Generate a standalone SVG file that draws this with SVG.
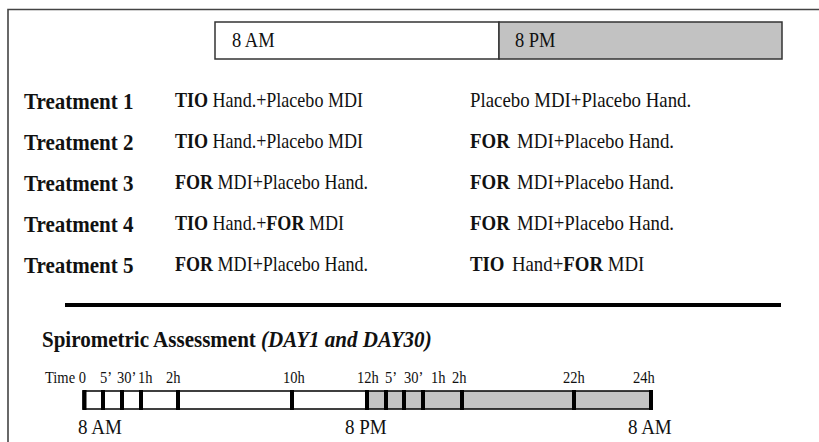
<svg xmlns="http://www.w3.org/2000/svg" width="819" height="442" viewBox="0 0 819 442">
<style>
text{font-family:"Liberation Serif","Times New Roman",serif;fill:#111}
.tl{font-size:23.9px;font-weight:bold}
.r2{font-size:20.5px}
.r3{font-size:21.4px}
.hd{font-size:21px}
.b{font-weight:bold}
.tm{font-size:16.5px}
.bt{font-size:21.6px}
.frame{stroke:#444;stroke-width:1.6;fill:none}
.box{stroke:#333;stroke-width:1.5}
.tick{stroke:#000;stroke-width:4}
</style>
<rect x="0" y="0" width="819" height="442" fill="#fff"/>
<path class="frame" d="M8 442 V9.5 H819"/>
<g id="header">
<rect class="box" x="215" y="22" width="284" height="37" fill="#fff"/>
<rect class="box" x="499" y="22" width="283" height="37" fill="#c2c2c2"/>
<g transform="scale(0.88 1)">
<text class="hd" x="263.6" y="47">8 AM</text>
<text class="hd" x="585.2" y="47">8 PM</text>
</g>
</g>
<g id="treatments" transform="scale(0.88 1)">
<text class="tl" x="27.3" y="109">Treatment 1</text>
<text class="tl" x="27.3" y="150">Treatment 2</text>
<text class="tl" x="27.3" y="191">Treatment 3</text>
<text class="tl" x="27.3" y="232">Treatment 4</text>
<text class="tl" x="27.3" y="273">Treatment 5</text>
<text class="r2" x="198.9" y="107"><tspan class="b">TIO</tspan> Hand.+Placebo MDI</text>
<text class="r2" x="198.9" y="148"><tspan class="b">TIO</tspan> Hand.+Placebo MDI</text>
<text class="r2" x="198.9" y="189"><tspan class="b">FOR</tspan> MDI+Placebo Hand.</text>
<text class="r2" x="198.9" y="230"><tspan class="b">TIO</tspan> Hand.+<tspan class="b">FOR</tspan> MDI</text>
<text class="r2" x="198.9" y="271"><tspan class="b">FOR</tspan> MDI+Placebo Hand.</text>
<text class="r3" x="534.1" y="107">Placebo MDI+Placebo Hand.</text>
<text class="r3" x="534.1" y="148"><tspan class="b">FOR</tspan> <tspan dx="3">MDI+Placebo Hand.</tspan></text>
<text class="r3" x="534.1" y="189"><tspan class="b">FOR</tspan> <tspan dx="3">MDI+Placebo Hand.</tspan></text>
<text class="r3" x="534.1" y="230"><tspan class="b">FOR</tspan> <tspan dx="3">MDI+Placebo Hand.</tspan></text>
<text class="r3" x="534.1" y="271"><tspan class="b">TIO</tspan> <tspan dx="3">Hand+</tspan><tspan class="b">FOR</tspan> MDI</text>
</g>
<line x1="65" y1="305" x2="781" y2="305" stroke="#000" stroke-width="4"/>
<g id="spirometry">
<g transform="scale(0.88 1)">
<text class="tl" x="47.7" y="347">Spirometric Assessment <tspan font-style="italic">(DAY1 and DAY30)</tspan></text>
<text class="tm" x="51.1" y="383">Time 0</text>
<text class="tm" x="113.6" y="383">5’</text>
<text class="tm" x="133" y="383">30’</text>
<text class="tm" x="156.8" y="383">1h</text>
<text class="tm" x="188.6" y="383">2h</text>
<text class="tm" x="321.6" y="383">10h</text>
<text class="tm" x="405.7" y="383">12h</text>
<text class="tm" x="437.5" y="383">5’</text>
<text class="tm" x="459.1" y="383">30’</text>
<text class="tm" x="489.8" y="383">1h</text>
<text class="tm" x="513.6" y="383">2h</text>
<text class="tm" x="639.8" y="383">22h</text>
<text class="tm" x="719.3" y="383">24h</text>
<text class="bt" x="88.6" y="434">8 AM</text>
<text class="bt" x="392" y="434">8 PM</text>
<text class="bt" x="713.6" y="434">8 AM</text>
</g>
<rect x="83" y="391" width="284" height="18" fill="#fff" stroke="#000" stroke-width="1.5"/>
<rect x="367" y="391" width="285" height="18" fill="#c4c4c4" stroke="#000" stroke-width="1.5"/>
<g class="tick">
<line x1="84.5" y1="390" x2="84.5" y2="410"/>
<line x1="103" y1="390" x2="103" y2="410"/>
<line x1="122" y1="390" x2="122" y2="410"/>
<line x1="141" y1="390" x2="141" y2="410"/>
<line x1="178" y1="390" x2="178" y2="410"/>
<line x1="292" y1="390" x2="292" y2="410"/>
<line x1="367" y1="390" x2="367" y2="410"/>
<line x1="386" y1="390" x2="386" y2="410"/>
<line x1="404" y1="390" x2="404" y2="410"/>
<line x1="423" y1="390" x2="423" y2="410"/>
<line x1="462" y1="390" x2="462" y2="410"/>
<line x1="574" y1="390" x2="574" y2="410"/>
<line x1="651" y1="390" x2="651" y2="410"/>
</g>
</g>
</svg>
